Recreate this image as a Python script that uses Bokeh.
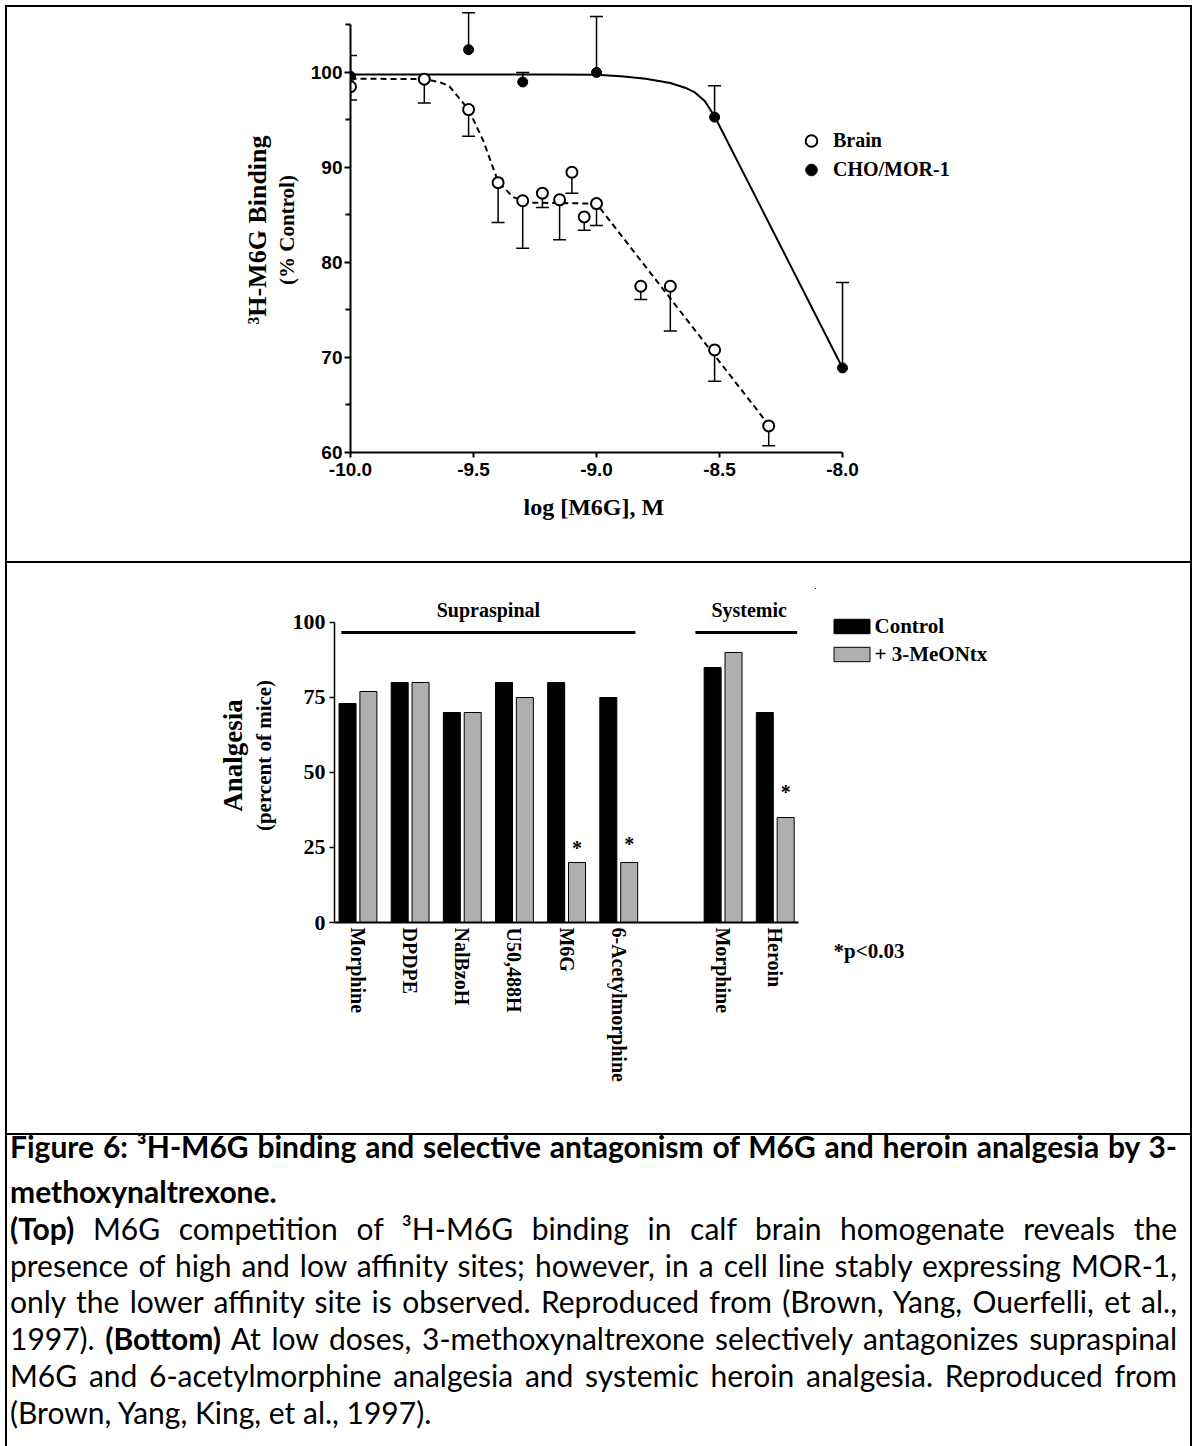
import math
from bokeh.plotting import figure
from bokeh.models import (ColumnDataSource, Whisker, TeeHead, Legend, LegendItem, Title,
                          FixedTicker, PrintfTickFormatter, Div, Spacer, Range1d, LinearAxis)
from bokeh.layouts import column, row
from bokeh.embed import file_html
from bokeh.resources import INLINE
from bokeh.core.properties import value

# ---------------- data: top panel (3H-M6G binding) ----------------
brain_logc = [-10.0, -9.70, -9.52, -9.40, -9.30, -9.22, -9.15, -9.10, -9.05, -9.00, -8.82, -8.70, -8.52, -8.30]
brain_pct = [98.5, 99.3, 96.1, 88.4, 86.5, 87.3, 86.6, 89.5, 84.8, 86.2, 77.5, 77.5, 70.8, 62.8]
brain_err_low = [97.1, 96.8, 93.3, 84.2, 81.5, 85.8, 82.4, 87.3, 83.4, 83.9, 76.1, 72.8, 67.5, 60.7]

cho_logc = [-10.0, -9.52, -9.30, -9.00, -8.52, -8.00]
cho_pct = [99.6, 102.4, 99.0, 100.0, 95.3, 68.9]
cho_err_high = [101.8, 106.3, 100.0, 105.9, 98.6, 77.9]

brain_fit_x = [-10.0, -9.70, -9.64, -9.60, -9.52, -9.46, -9.40, -9.34, -9.28, -9.00, -8.30]
brain_fit_y = [99.35, 99.3, 99.0, 98.6, 96.1, 92.8, 88.5, 86.9, 86.3, 86.2, 62.9]

cho_fit_x = [-10.0, -9.20, -9.00, -8.90, -8.80, -8.70, -8.64, -8.60, -8.56, -8.52, -8.00]
cho_fit_y = [99.8, 99.8, 99.75, 99.6, 99.35, 98.9, 98.4, 97.9, 97.0, 95.4, 68.9]

top_xticks = [-10.0, -9.5, -9.0, -8.5, -8.0]
top_yticks = [60, 70, 80, 90, 100]
top_yminor = [65, 75, 85, 95, 105]

# ---------------- data: bottom panel (analgesia) ----------------
group_names = ["Supraspinal", "Systemic"]
group_drugs = [["Morphine", "DPDPE", "NalBzoH", "U50,488H", "M6G", "6-Acetylmorphine"],
               ["Morphine", "Heroin"]]
control = [73, 80, 70, 80, 80, 75, 85, 70]
meontx = [77, 80, 70, 75, 20, 20, 90, 35]
significant = [False, False, False, False, True, True, False, True]
bar_yticks = [0, 25, 50, 75, 100]

caption_lines = [
    ("<b>Figure 6: \u00b3H-M6G binding and selective antagonism of M6G and heroin analgesia by 3-</b>", True),
    ("<b>methoxynaltrexone.</b>", False),
    ("<b>(Top)</b> M6G competition of \u00b3H-M6G binding in calf brain homogenate reveals the", True),
    ("presence of high and low affinity sites; however, in a cell line stably expressing MOR-1,", True),
    ("only the lower affinity site is observed. Reproduced from (Brown, Yang, Ouerfelli, et al.,", True),
    ("1997). <b>(Bottom)</b> At low doses, 3-methoxynaltrexone selectively antagonizes supraspinal", True),
    ("M6G and 6-acetylmorphine analgesia and systemic heroin analgesia. Reproduced from", True),
    ("(Brown, Yang, King, et al., 1997).", False),
]

SERIF = "Liberation Serif"
SANS = "Liberation Sans"


def title_axis(label, size, standoff, bounds):
    return LinearAxis(ticker=FixedTicker(ticks=[]), axis_label=label, bounds=bounds,
                      axis_line_color=None, major_tick_line_color=None, minor_tick_line_color=None,
                      major_tick_out=0, major_tick_in=0, major_label_standoff=0,
                      axis_label_standoff=standoff, axis_label_text_font=SERIF,
                      axis_label_text_font_style="bold", axis_label_text_font_size=size,
                      axis_label_text_color="black")


# ================= top figure =================
p1 = figure(width=1183, height=554, output_backend="svg", toolbar_location=None,
            x_range=Range1d(-10.0, -6.992), y_range=Range1d(60.0, 106.84))
p1.min_border_left = 343
p1.min_border_right = 100
p1.min_border_top = 0
p1.min_border_bottom = 109
p1.outline_line_color = None
p1.grid.visible = False

xa = p1.xaxis[0]
xa.ticker = FixedTicker(ticks=top_xticks)
xa.formatter = PrintfTickFormatter(format="%.1f")
xa.bounds = (top_xticks[0], top_xticks[-1])
xa.axis_line_width = 2
xa.major_tick_line_width = 2
xa.major_tick_out = 5
xa.major_tick_in = 0
xa.minor_tick_line_color = None
xa.major_label_standoff = 5
xa.major_label_text_font = SANS
xa.major_label_text_font_style = "bold"
xa.major_label_text_font_size = "19px"
xa.major_label_text_color = "black"

ya = p1.yaxis[0]
ya.ticker = FixedTicker(ticks=top_yticks, minor_ticks=top_yminor)
ya.bounds = (60, 105)
ya.axis_line_width = 2
ya.major_tick_line_width = 2
ya.minor_tick_line_width = 2
ya.major_tick_out = 6
ya.major_tick_in = 0
ya.minor_tick_out = 5
ya.minor_tick_in = 0
ya.major_label_standoff = 2
ya.major_label_text_font = SANS
ya.major_label_text_font_style = "bold"
ya.major_label_text_font_size = "19px"
ya.major_label_text_color = "black"

p1.add_layout(title_axis("(% Control)", "21px", 9, (62.26, 105.0)), "left")
p1.add_layout(title_axis("\u00b3H-M6G Binding", "26px", 0, (62.26, 105.0)), "left")
p1.add_layout(Title(text="log [M6G], M", align="left", offset=173, standoff=26,
                    text_font=SERIF, text_font_style="bold", text_font_size="24px",
                    text_color="black"), "below")

brain_src = ColumnDataSource(dict(x=brain_logc, y=brain_pct, lo=brain_err_low))
cho_src = ColumnDataSource(dict(x=cho_logc, y=cho_pct, hi=cho_err_high))

p1.add_layout(Whisker(source=brain_src, base="x", upper="y", lower="lo", dimension="height",
                      line_width=1.5, line_color="black", level="underlay",
                      upper_head=None, lower_head=TeeHead(size=13, line_width=1.5)))
p1.add_layout(Whisker(source=cho_src, base="x", upper="hi", lower="y", dimension="height",
                      line_width=1.5, line_color="black", level="underlay",
                      lower_head=None, upper_head=TeeHead(size=13, line_width=1.5)))

p1.line(cho_fit_x, cho_fit_y, line_color="black", line_width=2)
p1.line(brain_fit_x, brain_fit_y, line_color="black", line_width=2, line_dash="6 4")

r_brain = p1.scatter("x", "y", source=brain_src, marker="circle", size=11,
                     fill_color="white", line_color="black", line_width=2)
r_cho = p1.scatter("x", "y", source=cho_src, marker="circle", size=10,
                   fill_color="black", line_color="black", line_width=1)

leg1 = Legend(items=[LegendItem(label="Brain", renderers=[r_brain]),
                     LegendItem(label="CHO/MOR-1", renderers=[r_cho])],
              location=(446, 268.5), orientation="vertical",
              glyph_width=30, glyph_height=29, label_height=29, spacing=0,
              padding=0, margin=0, label_standoff=7,
              border_line_color=None, background_fill_alpha=0,
              label_text_font=SERIF, label_text_font_style="bold",
              label_text_font_size="20px", label_text_color="black")
p1.add_layout(leg1)

# ================= bottom figure (bars) =================
positions, labels, group_of = [], [], []
pos = 0
for gi, drugs in enumerate(group_drugs):
    if gi > 0:
        pos += 1
    for d in drugs:
        positions.append(pos)
        labels.append(d)
        group_of.append(gi)
        pos += 1

BAR_W = 0.326
BAR_OFF = 0.2
p2 = figure(width=808, height=570, output_backend="svg", toolbar_location=None,
            x_range=Range1d(-0.45, 8.772), y_range=Range1d(0, 111.33))
p2.min_border_left = 327
p2.min_border_right = 0
p2.min_border_top = 25
p2.min_border_bottom = 211
p2.outline_line_color = None
p2.grid.visible = False

bx = p2.xaxis[0]
bx.ticker = FixedTicker(ticks=positions)
bx.major_label_overrides = {p: l for p, l in zip(positions, labels)}
bx.major_label_orientation = "vertical"
bx.bounds = (-0.45, 8.445)
bx.axis_line_width = 2
bx.major_tick_line_color = None
bx.major_tick_out = 0
bx.major_tick_in = 0
bx.minor_tick_line_color = None
bx.major_label_standoff = 5
bx.major_label_text_font = SERIF
bx.major_label_text_font_style = "bold"
bx.major_label_text_font_size = "20px"
bx.major_label_text_color = "black"

by = p2.yaxis[0]
by.ticker = FixedTicker(ticks=bar_yticks)
by.bounds = (0, 100)
by.axis_line_width = 1.5
by.major_tick_line_width = 1.5
by.major_tick_out = 5
by.major_tick_in = 0
by.minor_tick_line_color = None
by.major_label_standoff = 4
by.major_label_text_font = SERIF
by.major_label_text_font_style = "bold"
by.major_label_text_font_size = "22px"
by.major_label_text_color = "black"

p2.add_layout(title_axis("(percent of mice)", "21px", 14, (0, 110.33)), "left")
p2.add_layout(title_axis("Analgesia", "27px", 1, (0, 111.33)), "left")

bar_src = ColumnDataSource(dict(
    xc=[p - BAR_OFF for p in positions], xm=[p + BAR_OFF for p in positions],
    control=control, meontx=meontx))
p2.vbar(x="xc", width=BAR_W, top="control", bottom=0, source=bar_src,
        fill_color="black", line_color="black", line_width=1)
p2.vbar(x="xm", width=BAR_W, top="meontx", bottom=0, source=bar_src,
        fill_color="#afafaf", line_color="black", line_width=1)

star_x = [p + BAR_OFF for p, s in zip(positions, significant) if s]
star_y = [v for v, s in zip(meontx, significant) if s]
star_off = [-14, -18, -25]
p2.text(x=star_x, y=star_y, text=["*"] * len(star_x), y_offset=star_off,
        text_align="center", text_baseline="middle", text_font=value(SERIF),
        text_font_style="bold", text_font_size="20px", text_color="black")

group_pad = [(0.32, 0.32), (0.53, 0.42)]
GROUP_LINE_Y = 96.67
GROUP_TEXT_Y = 104.3
gx0, gx1, gcx = [], [], []
for gi in range(len(group_names)):
    ps = [p for p, g in zip(positions, group_of) if g == gi]
    gx0.append(ps[0] - group_pad[gi][0])
    gx1.append(ps[-1] + group_pad[gi][1])
    gcx.append((ps[0] + ps[-1]) / 2)
p2.segment(x0=gx0, x1=gx1, y0=[GROUP_LINE_Y] * 2, y1=[GROUP_LINE_Y] * 2,
           line_color="black", line_width=3)
p2.text(x=gcx, y=[GROUP_TEXT_Y] * 2, text=group_names, text_align="center",
        text_baseline="middle", text_font=value(SERIF), text_font_style="bold",
        text_font_size="20px", text_color="black")

# ================= bottom right: legend and note =================
p3 = figure(width=375, height=570, output_backend="svg", toolbar_location=None,
            x_range=Range1d(815, 1190), y_range=Range1d(922, 588))
p3.min_border_left = 0
p3.min_border_right = 0
p3.min_border_top = 25
p3.min_border_bottom = 211
p3.outline_line_color = None
p3.grid.visible = False
p3.xaxis.visible = False
p3.yaxis.visible = False
p3.add_layout(Title(text="*p<0.03", align="left", offset=18, standoff=29,
                    text_font=SERIF, text_font_style="bold", text_font_size="21px",
                    text_color="black"), "below")

# legend keys: the same bar series (their data lie outside this panel's ranges)
k_ctrl = p3.vbar(x="xc", width=BAR_W, top="control", bottom=0, source=bar_src,
                 fill_color="black", line_color="black", line_width=1)
k_meo = p3.vbar(x="xm", width=BAR_W, top="meontx", bottom=0, source=bar_src,
                fill_color="#afafaf", line_color="black", line_width=1)
leg2 = Legend(items=[LegendItem(label="Control", renderers=[k_ctrl]),
                     LegendItem(label="+ 3-MeONtx", renderers=[k_meo])],
              location=(13.5, 255.2), orientation="vertical",
              glyph_width=45, glyph_height=18, label_height=18, spacing=3,
              padding=0, margin=0, label_standoff=1,
              border_line_color=None, background_fill_alpha=0,
              label_text_font=SERIF, label_text_font_style="bold",
              label_text_font_size="21px", label_text_color="black")
p3.add_layout(leg2)

# ================= caption =================
CAP_FONT = 30
cap_baselines = [23, 68, 105, 142, 178, 215, 252, 289]
parts = []
for (txt, just), base in zip(caption_lines, cap_baselines):
    top = base - round(0.887 * CAP_FONT)
    align = "text-align:justify;text-align-last:justify;" if just else "text-align:left;"
    parts.append(
        f'<div style="position:absolute;left:3px;top:{top}px;width:1167px;'
        f'line-height:1;white-space:nowrap;{align}">{txt}</div>')
html = (f'<div style="position:relative;width:1183px;height:311px;font-family:Lato,sans-serif;'
        f'font-size:{CAP_FONT}px;color:black;">' + "".join(parts) + "</div>")
caption = Div(text=html, width=1183, height=311, margin=0)


def black(w, h):
    return Div(text="", width=w, height=h, margin=0, styles={"background-color": "black"})


top_row = row(black(2, 554), p1, black(2, 554), spacing=0, margin=0)
bot_row = row(black(2, 570), p2, p3, black(2, 570), spacing=0, margin=0)
cap_row = row(black(2, 311), caption, black(2, 311), spacing=0, margin=0)
page = column(Spacer(width=1187, height=5, margin=0), black(1187, 2), top_row, black(1187, 2),
              bot_row, black(1187, 2), cap_row, spacing=0, margin=0)
root = row(Spacer(width=5, height=1446, margin=0), page, spacing=0, margin=0)

open("out.html", "w").write(file_html(root, INLINE, "Figure 6"))
